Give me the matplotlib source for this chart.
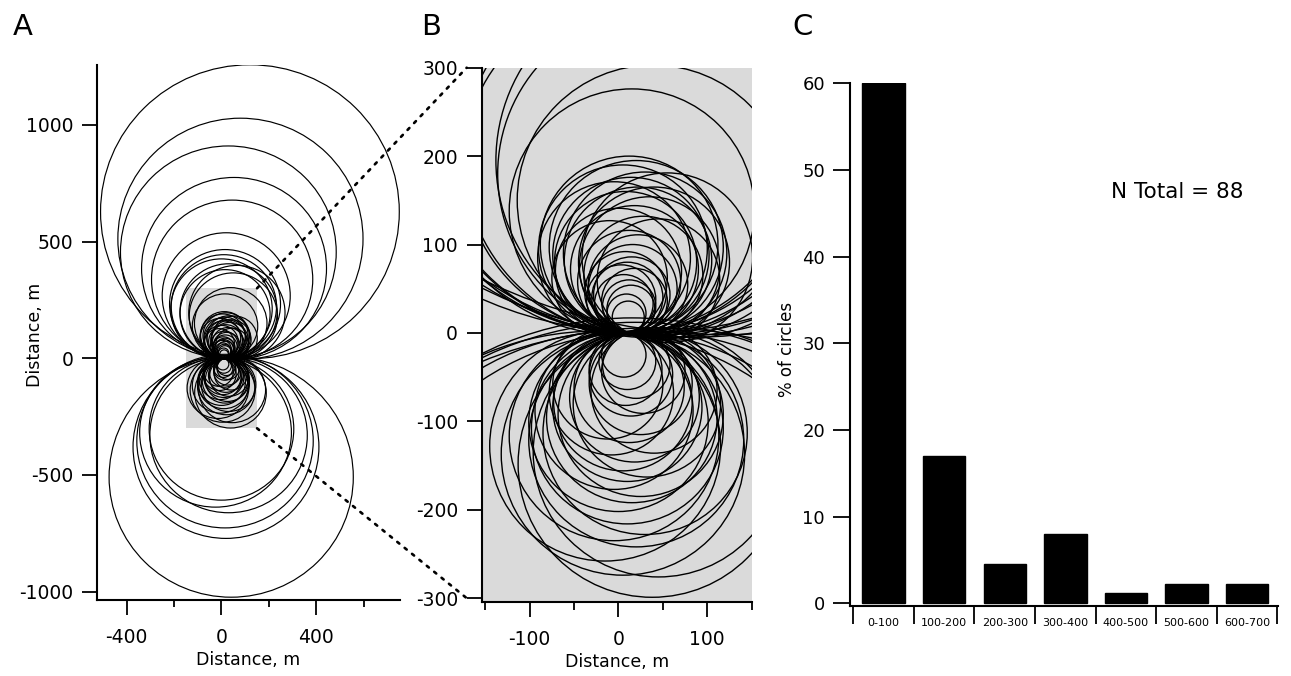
import matplotlib
matplotlib.use("Agg")
import matplotlib.pyplot as plt
from matplotlib.patches import Circle, Rectangle, ConnectionPatch
import matplotlib.transforms as mtransforms

plt.rcParams['font.family'] = ['DejaVu Sans']
plt.rcParams['axes.unicode_minus'] = False

# ---------------- data ----------------
# circles: centre x, centre y, radius (metres)
circle_x = [
    # upper, large
    120, 80, 29, 53, 45, 20,
    # upper 200-300
    15, 10, 0,
    # upper 100-200
    30, 65, 15, 50, 39, 15,
    # upper 0-100
    12, 20, 5, 30, 14, -5, 40, 22, 8, 35, 18, 0, 28, 12, 22, 8, 15, 10,
    18, 6, 12, 14, 9, 11, -10, 45, 16, 3, 55,
    # lower, large
    41, 19, 15, 30, -25, 0,
    # lower 100-200
    5, 45, 20, -5, 30, 10, 0, 38, -15,
    # lower 0-100
    15, 25, -5, 10, 32, 5, 18, -8, 12, 25, 14, 8, 20, 10, 6, 40, -12, 28,
]
circle_y = [
    628, 512, 455, 385, 338, 268,
    232, 222, 212,
    200, 195, 190, 180, 150, 138,
    100, 97, 95, 90, 88, 85, 80, 82, 80, 75, 72, 70, 65, 58, 55, 46, 43, 40,
    36, 33, 30, 27, 22, 18, 62, 60, 50, 38, 85,
    -509, -380, -355, -330, -318, -303,
    -137, -135, -121, -117, -113, -108, -101, -148, -128,
    -96, -92, -88, -84, -80, -78, -73, -68, -62, -57, -47, -41, -36, -32,
    -25, -65, -58, -44,
]
circle_r = [
    630, 517, 455, 390, 340, 270,
    234, 222, 214,
    205, 203, 190, 186, 153, 138,
    100, 98, 95, 92, 88, 86, 85, 83, 80, 79, 72, 71, 67, 58, 56, 46, 43, 40,
    37, 33, 30, 27, 22, 18, 65, 69, 50, 39, 96,
    515, 392, 372, 332, 320, 305,
    137, 141, 121, 118, 115, 108, 101, 151, 130,
    96, 93, 89, 84, 83, 78, 73, 70, 62, 58, 47, 41, 38, 32,
    25, 71, 62, 47,
]

zoom_x = [-150, 150]
zoom_y = [-300, 300]

radius_bins = ['0-100', '100-200', '200-300', '300-400', '400-500', '500-600', '600-700']
pct_circles = [60.0, 17.0, 4.5, 8.0, 1.15, 2.25, 2.25]
n_total = 88

# ---------------- layout ----------------
W, H = 1291, 676
fig = plt.figure(figsize=(W / 100, H / 100), dpi=100)


def box(l, t, r, b):
    return [l / W, 1 - b / H, (r - l) / W, (b - t) / H]


axA = fig.add_axes(box(97, 65, 400, 600))
axB = fig.add_axes(box(481.7, 67.7, 751.7, 601.7))
axC = fig.add_axes(box(850, 82.6, 1278.3, 606))

GRAY = '#dadada'
SPINE_W = 1.5
TICK_W = 1.3
TICK_FS = 13.5

for ax in (axA, axB, axC):
    ax.spines['top'].set_visible(False)
    ax.spines['right'].set_visible(False)
    ax.spines['left'].set_linewidth(SPINE_W)
    ax.spines['bottom'].set_linewidth(SPINE_W)

# ---------------- panel A ----------------
axA.add_patch(Rectangle((zoom_x[0], zoom_y[0]), zoom_x[1] - zoom_x[0],
                        zoom_y[1] - zoom_y[0], facecolor=GRAY, edgecolor='none', zorder=1))
for cx, cy, r in zip(circle_x, circle_y, circle_r):
    axA.add_patch(Circle((cx, cy), r, fill=False, edgecolor='black', lw=0.85, zorder=2))
axA.set_xlim(-525, 753)
axA.set_ylim(-1036, 1257)
axA.set_xticks([-400, 0, 400])
axA.set_xticks([-200, 200, 600], minor=True)
axA.set_yticks([-1000, -500, 0, 500, 1000])
axA.tick_params(axis='both', which='major', length=11, width=TICK_W, labelsize=TICK_FS)
axA.tick_params(axis='x', which='major', pad=9)
axA.tick_params(axis='y', which='major', pad=6)
axA.tick_params(axis='x', which='minor', length=5, width=TICK_W)
axA.set_xlabel('Distance, m', fontsize=12.5, labelpad=3)
axA.set_ylabel('Distance, m', fontsize=12.5)
axA.yaxis.set_label_coords(-0.175, 0.495)

# ---------------- panel B ----------------
axB.set_facecolor(GRAY)
for cx, cy, r in zip(circle_x, circle_y, circle_r):
    axB.add_patch(Circle((cx, cy), r, fill=False, edgecolor='black', lw=1.0))
axB.set_xlim(-154, 150)
axB.set_ylim(-304, 300)
axB.set_xticks([-100, 0, 100])
axB.set_xticks([-150, -50, 50, 150], minor=True)
axB.set_yticks([-300, -200, -100, 0, 100, 200, 300])
axB.tick_params(axis='both', which='major', length=11, width=TICK_W, labelsize=TICK_FS)
axB.tick_params(axis='x', which='major', pad=9.5)
axB.tick_params(axis='y', which='major', pad=6)
axB.tick_params(axis='x', which='minor', length=6, width=TICK_W)
axB.set_xlabel('Distance, m', fontsize=12.5, labelpad=3)

# ---------------- dashed connectors ----------------
off = mtransforms.offset_copy(axB.transData, fig=fig, x=-15, y=0, units='dots')
for yv in zoom_y:
    cp = ConnectionPatch(xyA=(zoom_x[1], yv), coordsA=axA.transData,
                         xyB=(axB.get_xlim()[0], yv), coordsB=off,
                         linestyle=(0, (1.0, 2.6)), lw=1.9, color='black')
    fig.add_artist(cp)

# ---------------- panel C ----------------
xpos = list(range(len(radius_bins)))
axC.bar(xpos, pct_circles, width=0.7, color='black', edgecolor='black')
axC.set_xlim(-0.555, 6.515)
axC.set_ylim(-0.32, 60.1)
axC.set_yticks([0, 10, 20, 30, 40, 50, 60])
axC.set_xticks(xpos)
axC.set_xticklabels(radius_bins)
axC.set_xticks([x - 0.5 for x in xpos] + [xpos[-1] + 0.5], minor=True)
axC.tick_params(axis='x', which='major', length=0, labelsize=8, pad=9)
axC.tick_params(axis='x', which='minor', length=13, width=TICK_W)
axC.tick_params(axis='y', which='major', length=12, width=TICK_W, labelsize=13, pad=6)
axC.set_ylabel('% of circles', fontsize=12)
axC.yaxis.set_label_coords(-0.125, 0.49)
axC.text(4.84, 47.5, 'N Total = %d' % n_total, fontsize=15.5, ha='center', va='center')

# ---------------- panel letters ----------------
for x, lab in [(22.5, 'A'), (431, 'B'), (803, 'C')]:
    fig.text(x / W, 1 - 35 / H, lab, fontsize=21, ha='center', va='baseline')

fig.savefig('out.png', dpi=100)
